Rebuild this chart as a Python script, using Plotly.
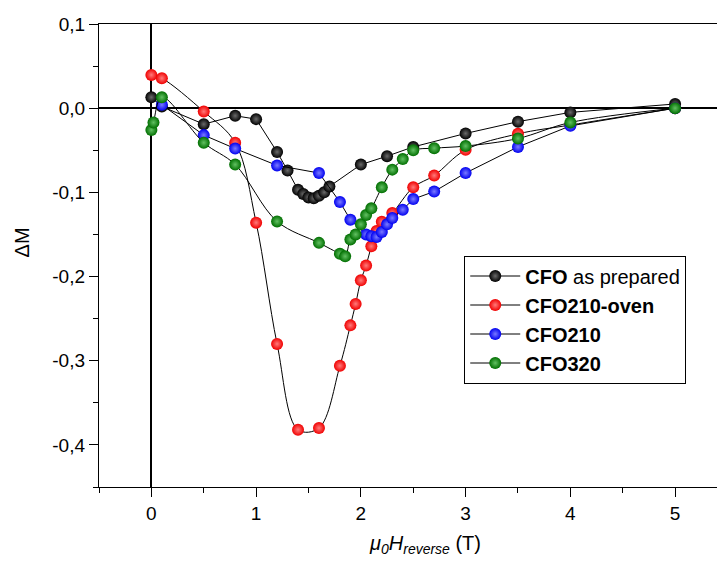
import plotly.graph_objects as go

# Reverse-field magnetisation difference for four CFO samples
cfo_x = [0.0, 0.1, 0.5, 0.8, 1.0, 1.2, 1.3, 1.4, 1.45, 1.5, 1.55, 1.6, 1.65, 1.7,
         2.0, 2.25, 2.5, 3.0, 3.5, 4.0, 5.0]
cfo_y = [0.013, 0.002, -0.019, -0.009, -0.013, -0.052, -0.074, -0.097, -0.102, -0.106,
         -0.107, -0.104, -0.100, -0.093, -0.067, -0.057, -0.046, -0.030, -0.016, -0.005, 0.005]

oven_x = [0.0, 0.1, 0.5, 0.8, 1.0, 1.2, 1.4, 1.6, 1.8, 1.9, 1.95, 2.0, 2.05, 2.1,
          2.15, 2.2, 2.3, 2.5, 2.7, 3.0, 3.5, 4.0, 5.0]
oven_y = [0.0395, 0.0356, -0.004, -0.041, -0.136, -0.280, -0.382, -0.380, -0.306, -0.258,
          -0.2325, -0.2045, -0.187, -0.164, -0.146, -0.135, -0.1246, -0.094, -0.080,
          -0.0495, -0.0305, -0.020, 0.0]

c210_x = [0.1, 0.5, 0.8, 1.2, 1.6, 1.8, 1.9, 2.05, 2.1, 2.15, 2.2, 2.25, 2.3, 2.4,
          2.5, 2.7, 3.0, 3.5, 4.0, 5.0]
c210_y = [0.004, -0.032, -0.048, -0.068, -0.077, -0.1115, -0.1325, -0.150, -0.152, -0.153,
          -0.147, -0.138, -0.1305, -0.1206, -0.108, -0.099, -0.077, -0.046, -0.021, 0.0]

c320_x = [0.0, 0.02, 0.1, 0.5, 0.8, 1.2, 1.6, 1.8, 1.85, 1.9, 1.95, 2.0, 2.05, 2.1,
          2.2, 2.3, 2.4, 2.5, 2.7, 3.0, 3.5, 4.0, 5.0]
c320_y = [-0.026, -0.017, 0.013, -0.041, -0.067, -0.1345, -0.160, -0.173, -0.176, -0.156,
          -0.150, -0.138, -0.127, -0.119, -0.094, -0.073, -0.0605, -0.050, -0.0475,
          -0.045, -0.036, -0.017, 0.0]

series_names = ["<b>CFO</b> as prepared", "<b>CFO210-oven</b>", "<b>CFO210</b>", "<b>CFO320</b>"]

x_tickvals = [0, 1, 2, 3, 4, 5]
x_ticktext = ["0", "1", "2", "3", "4", "5"]
x_minor = [-0.5, 0.5, 1.5, 2.5, 3.5, 4.5]
y_tickvals = [0.1, 0.0, -0.1, -0.2, -0.3, -0.4]
y_ticktext = ["0,1", "0,0", "-0,1", "-0,2", "-0,3", "-0,4"]
y_minor = [0.05, -0.05, -0.15, -0.25, -0.35, -0.45]

FONT = "Liberation Sans, Arial, sans-serif"

fig = go.Figure()

# (x, y, sphere colour, highlight colour, connecting-line shape)
styles = [
    (cfo_x, cfo_y, "#000000", "#6a6a6a", "linear"),
    (oven_x, oven_y, "#f00000", "#ff7a7a", "spline"),
    (c210_x, c210_y, "#0000f0", "#7a7aff", "linear"),
    (c320_x, c320_y, "#006e00", "#62c062", "spline"),
]

for (xs, ys, col, hi, shape), name in zip(styles, series_names):
    fig.add_trace(go.Scatter(
        x=xs, y=ys, name=name, mode="lines+markers",
        line=dict(color="#000000", width=1, shape=shape),
        marker=dict(size=12, color=col, line=dict(width=0),
                    gradient=dict(type="radial", color=hi)),
    ))

fig.update_layout(
    width=717, height=563,
    margin=dict(l=99, r=0, t=24, b=76),
    paper_bgcolor="white", plot_bgcolor="white",
    font=dict(family=FONT, size=19, color="black"),
    showlegend=True,
    legend=dict(
        x=0.591, y=0.5, xanchor="left", yanchor="top",
        bgcolor="white", bordercolor="black", borderwidth=1,
        font=dict(family=FONT, size=20, color="black"),
        itemwidth=50, tracegroupgap=0,
    ),
    xaxis=dict(
        range=[-0.5, 5.4], showgrid=False,
        showline=True, linecolor="black", linewidth=1.3, mirror=True,
        zeroline=True, zerolinecolor="black", zerolinewidth=1.5,
        tickmode="array", tickvals=x_tickvals, ticktext=x_ticktext,
        ticks="outside", ticklen=9, tickwidth=1.3, tickcolor="black",
        minor=dict(tickmode="array", tickvals=x_minor, ticks="outside",
                   ticklen=5, tickwidth=1.3, tickcolor="black"),
        tickfont=dict(family=FONT, size=19, color="black"),
    ),
    yaxis=dict(
        range=[-0.45, 0.1], showgrid=False,
        showline=True, linecolor="black", linewidth=1.3,
        zeroline=True, zerolinecolor="black", zerolinewidth=1.5,
        tickmode="array", tickvals=y_tickvals, ticktext=y_ticktext,
        ticks="outside", ticklen=9, tickwidth=1.3, tickcolor="black",
        minor=dict(tickmode="array", tickvals=y_minor, ticks="outside",
                   ticklen=5, tickwidth=1.3, tickcolor="black"),
        tickfont=dict(family=FONT, size=19, color="black"),
    ),
    annotations=[
        dict(text="<i>μ</i><sub><i>0</i></sub><i>H</i><sub><i>reverse</i></sub> (T)",
             xref="paper", yref="paper", x=0.528, y=-0.125,
             xanchor="center", yanchor="middle", showarrow=False,
             font=dict(family=FONT, size=20, color="black")),
        dict(text="ΔM", xref="paper", yref="paper", x=-0.124, y=0.529,
             xanchor="center", yanchor="middle", showarrow=False, textangle=-90,
             font=dict(family=FONT, size=20, color="black")),
    ],
)

fig.write_html("out.html")
